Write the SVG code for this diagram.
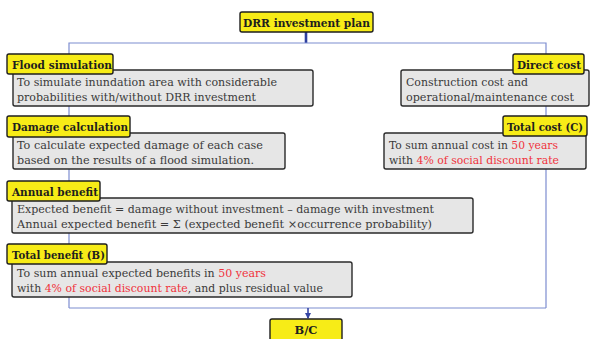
<svg xmlns="http://www.w3.org/2000/svg" width="592" height="339" viewBox="0 0 592 339">
  <defs>
    <marker id="arrow" viewBox="0 0 6 6" refX="5" refY="3" markerWidth="6" markerHeight="6" markerUnits="userSpaceOnUse" orient="auto">
      <path d="M0,0 L6,3 L0,6 z" fill="#3646a4"/>
    </marker>
  </defs>
  <style>
    .tag { fill: #f7ec17; stroke: #1e1e1e; stroke-width: 1.4; }
    .card { fill: #e6e6e6; stroke: #2a2a2a; stroke-width: 1.4; }
    .tagtxt { font-family: "DejaVu Serif", "Liberation Serif", serif; font-weight: bold; font-size: 11.5px; fill: #1e1e1e; }
    .body { font-family: "DejaVu Serif", "Liberation Serif", serif; font-size: 11.5px; fill: #3a3a3a; }
    .red { fill: #f0323c; }
    .link { fill: none; stroke: #7d8dd0; stroke-width: 1.2; }
  </style>

  <!-- connectors -->
  <g id="connectors">
    <line x1="306" y1="32" x2="306" y2="43" stroke="#2e3f9e" stroke-width="2.6"/>
    <polyline class="link" points="69,106 69,43 546,43 546,308"/>
    <line class="link" x1="69" y1="106" x2="69" y2="308"/>
    <line class="link" x1="69" y1="308" x2="546" y2="308"/>
    <line x1="308" y1="308" x2="308" y2="318" stroke="#3646a4" stroke-width="1.6" marker-end="url(#arrow)"/>
  </g>

  <!-- top node -->
  <g id="drr-plan">
    <rect class="tag" x="240" y="12" width="133" height="20" rx="2"/>
    <text class="tagtxt" x="243" y="26.5" textLength="127" lengthAdjust="spacingAndGlyphs">DRR investment plan</text>
  </g>

  <g id="flood-simulation">
    <rect class="card" x="13" y="70" width="300" height="36" rx="2"/>
    <text class="body" x="17" y="86" textLength="260" lengthAdjust="spacingAndGlyphs">To simulate inundation area with considerable</text>
    <text class="body" x="17" y="101" textLength="239" lengthAdjust="spacingAndGlyphs">probabilities with/without DRR investment</text>
    <rect class="tag" x="7" y="54" width="106" height="20" rx="2"/>
    <text class="tagtxt" x="12" y="68.5" textLength="100" lengthAdjust="spacingAndGlyphs">Flood simulation</text>
  </g>

  <g id="direct-cost">
    <rect class="card" x="401" y="70" width="188" height="36" rx="2"/>
    <text class="body" x="406" y="86" textLength="122" lengthAdjust="spacingAndGlyphs">Construction cost and</text>
    <text class="body" x="406" y="101" textLength="168" lengthAdjust="spacingAndGlyphs">operational/maintenance cost</text>
    <rect class="tag" x="513" y="54" width="71" height="20" rx="2"/>
    <text class="tagtxt" x="517" y="68.5" textLength="64" lengthAdjust="spacingAndGlyphs">Direct cost</text>
  </g>

  <g id="damage-calculation">
    <rect class="card" x="13" y="133" width="272" height="36" rx="2"/>
    <text class="body" x="17" y="149" textLength="246" lengthAdjust="spacingAndGlyphs">To calculate expected damage of each case</text>
    <text class="body" x="17" y="164" textLength="237" lengthAdjust="spacingAndGlyphs">based on the results of  a flood simulation.</text>
    <rect class="tag" x="7" y="116" width="123" height="21" rx="2"/>
    <text class="tagtxt" x="12" y="130.5" textLength="116" lengthAdjust="spacingAndGlyphs">Damage calculation</text>
  </g>

  <g id="total-cost">
    <rect class="card" x="384" y="133" width="202" height="36" rx="2"/>
    <text class="body" x="389" y="149" textLength="169" lengthAdjust="spacingAndGlyphs">To sum annual cost in <tspan class="red">50 years</tspan></text>
    <text class="body" x="389" y="164" textLength="170" lengthAdjust="spacingAndGlyphs">with <tspan class="red">4% of social discount rate</tspan></text>
    <rect class="tag" x="503" y="116" width="84" height="20" rx="2"/>
    <text class="tagtxt" x="507" y="130.5" textLength="76" lengthAdjust="spacingAndGlyphs">Total cost (C)</text>
  </g>

  <g id="annual-benefit">
    <rect class="card" x="12" y="198" width="461" height="35" rx="2"/>
    <text class="body" x="17" y="213" textLength="417" lengthAdjust="spacingAndGlyphs">Expected benefit = damage without investment – damage with investment</text>
    <text class="body" x="17" y="228" textLength="415" lengthAdjust="spacingAndGlyphs">Annual expected benefit = Σ (expected benefit  ×occurrence probability)</text>
    <rect class="tag" x="7" y="181" width="93" height="20" rx="2"/>
    <text class="tagtxt" x="12" y="195.5" textLength="86" lengthAdjust="spacingAndGlyphs">Annual benefit</text>
  </g>

  <g id="total-benefit">
    <rect class="card" x="12" y="262" width="340" height="35" rx="2"/>
    <text class="body" x="17" y="277" textLength="249" lengthAdjust="spacingAndGlyphs">To sum annual expected benefits in <tspan class="red">50 years</tspan></text>
    <text class="body" x="17" y="291.5" textLength="306" lengthAdjust="spacingAndGlyphs">with <tspan class="red">4% of social discount rate</tspan>, and plus residual value</text>
    <rect class="tag" x="7" y="244" width="100" height="20" rx="2"/>
    <text class="tagtxt" x="12" y="258.5" textLength="93" lengthAdjust="spacingAndGlyphs">Total benefit (B)</text>
  </g>

  <g id="bc-ratio">
    <rect class="tag" x="270" y="319" width="72" height="26" rx="2"/>
    <text class="tagtxt" x="306" y="333.5" text-anchor="middle" textLength="23" lengthAdjust="spacingAndGlyphs">B/C</text>
  </g>
</svg>
